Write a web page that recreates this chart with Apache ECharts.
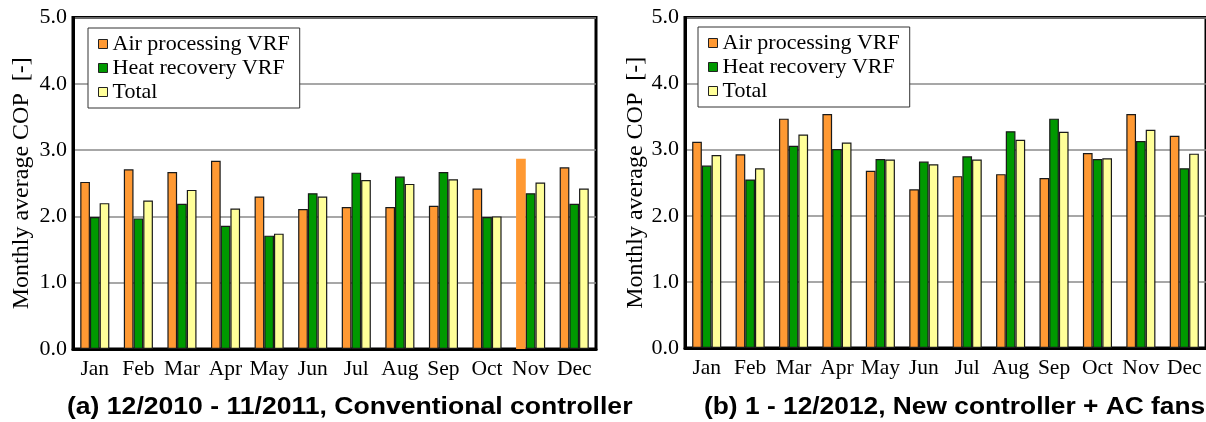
<!DOCTYPE html>
<html>
<head>
<meta charset="utf-8">
<script src="https://cdn.jsdelivr.net/npm/echarts@6/dist/echarts.min.js"></script>
<style>
  html, body { margin: 0; padding: 0; background: #fff; }
  #chart { width: 1206px; height: 422px; }
</style>
</head>
<body>
<div id="chart"></div>
<script>
// Months on the category axis
const months = ['Jan', 'Feb', 'Mar', 'Apr', 'May', 'Jun', 'Jul', 'Aug', 'Sep', 'Oct', 'Nov', 'Dec'];
const seriesNames = ['Air processing VRF', 'Heat recovery VRF', 'Total'];

// (a) 12/2010 - 11/2011, conventional controller: monthly average COP
const convAirProcessing = [2.52, 2.71, 2.67, 2.84, 2.30, 2.11, 2.14, 2.14, 2.16, 2.42, 2.87, 2.74];
const convHeatRecovery  = [1.99, 1.97, 2.19, 1.86, 1.71, 2.35, 2.66, 2.60, 2.67, 1.99, 2.35, 2.19];
const convTotal         = [2.20, 2.24, 2.40, 2.12, 1.74, 2.30, 2.55, 2.49, 2.56, 2.00, 2.51, 2.42];

// (b) 1 - 12/2012, new controller + AC fans: monthly average COP
const newAirProcessing = [3.12, 2.93, 3.47, 3.54, 2.68, 2.40, 2.60, 2.63, 2.57, 2.95, 3.54, 3.21];
const newHeatRecovery  = [2.76, 2.55, 3.06, 3.01, 2.86, 2.82, 2.90, 3.28, 3.47, 2.86, 3.13, 2.72];
const newTotal         = [2.92, 2.72, 3.23, 3.11, 2.85, 2.78, 2.85, 3.15, 3.27, 2.87, 3.30, 2.94];

// Y axis range and tick step
const yMin = 0, yMax = 5, yStep = 1;

const colors = ['#FF9933', '#009900', '#FFFF99'];
const serif = '"Liberation Serif", "DejaVu Serif", serif';
const sans = '"Liberation Sans", Arial, sans-serif';

const chart = echarts.init(document.getElementById('chart'), null, { renderer: 'canvas' });

function yAxis(gridIndex, nameGap) {
  return {
    type: 'value', gridIndex, min: yMin, max: yMax, interval: yStep,
    name: 'Monthly average COP  [-]', nameLocation: 'middle', nameGap,
    nameTextStyle: { fontFamily: serif, fontSize: 24, color: '#000' },
    axisLine: { show: true, lineStyle: { color: '#000', width: 3 } },
    axisTick: { show: false },
    axisLabel: { fontFamily: serif, fontSize: 22, color: '#000', margin: 6,
                 formatter: v => v.toFixed(1) },
    splitLine: { show: true, lineStyle: { color: '#8a8a8a', width: 1.5 } }
  };
}

function xAxis(gridIndex) {
  return {
    type: 'category', gridIndex, data: months,
    axisLine: { show: true, lineStyle: { color: '#000', width: 3 } },
    axisTick: { show: false },
    axisLabel: { fontFamily: serif, fontSize: 21.5, color: '#000', margin: 9, interval: 0 }
  };
}

function barSeries(name, data, idx, axisIndex, plainItems) {
  return {
    name, type: 'bar', xAxisIndex: axisIndex, yAxisIndex: axisIndex,
    barWidth: 9.7, barGap: '0%',
    itemStyle: { color: colors[idx], borderColor: '#1a1a1a', borderWidth: 1.2 },
    data: data.map((v, i) => (plainItems && plainItems.includes(i))
      ? { value: v, itemStyle: { borderWidth: 0 } }
      : v),
    animation: false
  };
}

function legend(left, top) {
  return {
    data: seriesNames, left, top, orient: 'vertical',
    backgroundColor: '#fff', borderColor: '#333', borderWidth: 1,
    padding: [5, 10], itemGap: 2, itemWidth: 9, itemHeight: 9,
    icon: 'rect', selectedMode: false,
    itemStyle: { borderColor: '#222', borderWidth: 1 },
    textStyle: { fontFamily: serif, fontSize: 22, color: '#000' }
  };
}

const option = {
  backgroundColor: '#fff',
  animation: false,
  grid: [
    { left: 73, right: 610, top: 17.5, bottom: 73, show: true, borderColor: '#000', borderWidth: 3 },
    { left: 685, right: -2, top: 17.5, bottom: 74, show: true, borderColor: '#000', borderWidth: 3 }
  ],
  xAxis: [xAxis(0), xAxis(1)],
  yAxis: [yAxis(0, 39), yAxis(1, 28)],
  legend: [legend(88, 28), legend(698, 27)],
  series: [
    barSeries(seriesNames[0], convAirProcessing, 0, 0, [10]),
    barSeries(seriesNames[1], convHeatRecovery, 1, 0),
    barSeries(seriesNames[2], convTotal, 2, 0),
    barSeries(seriesNames[0], newAirProcessing, 0, 1),
    barSeries(seriesNames[1], newHeatRecovery, 1, 1),
    barSeries(seriesNames[2], newTotal, 2, 1)
  ],
  graphic: [
    { type: 'text', left: 67, top: 396, scaleX: 1.155,
      style: { text: '(a) 12/2010 - 11/2011, Conventional controller',
               font: 'bold 23px ' + sans, fill: '#000' } },
    { type: 'text', left: 704, top: 396, scaleX: 1.145,
      style: { text: '(b) 1 - 12/2012, New controller + AC fans',
               font: 'bold 23px ' + sans, fill: '#000' } }
  ]
};

chart.setOption(option);
</script>
</body>
</html>
